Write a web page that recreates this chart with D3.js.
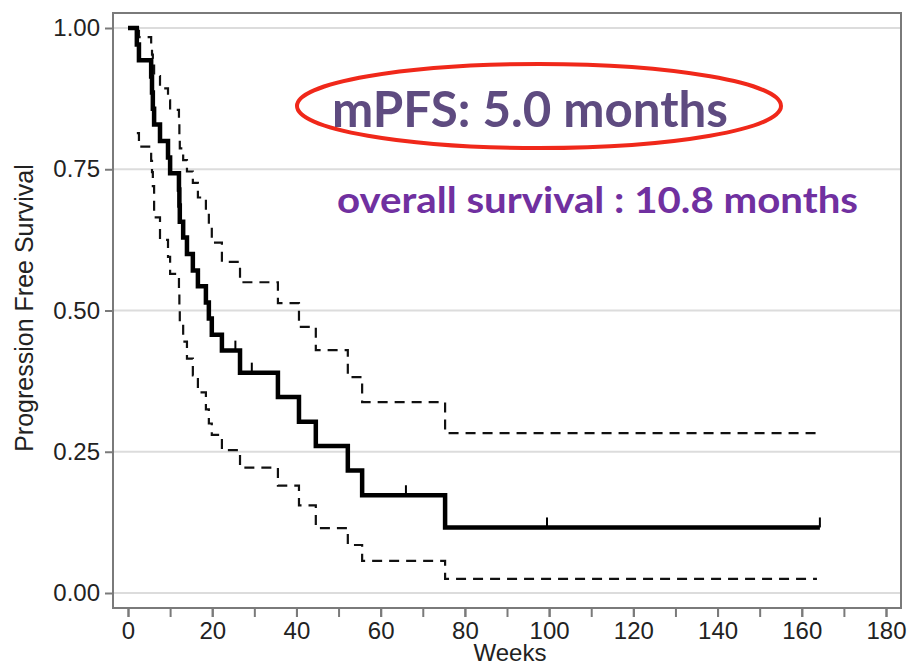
<!DOCTYPE html>
<html>
<head>
<meta charset="utf-8">
<script src="https://cdn.jsdelivr.net/npm/d3@7"></script>
<style>
  html, body { margin: 0; padding: 0; background: #fff; }
  svg { display: block; }
</style>
</head>
<body>
<svg id="chart" width="908" height="668"></svg>
<script>
// ---- data ----
const weeks = [0, 2.1, 2.6, 5.5, 5.7, 5.9, 6.2, 7.6, 9.5, 10.0, 12.1, 12.2, 12.3, 13.1, 14.0, 15.4, 16.6, 18.5, 19.2, 19.9, 22.3, 26.6, 35.6, 40.6, 44.6, 52.2, 55.6, 75.3];
const pfs = [1.0, 0.971, 0.943, 0.914, 0.886, 0.857, 0.829, 0.800, 0.771, 0.743, 0.714, 0.686, 0.657, 0.629, 0.600, 0.571, 0.543, 0.514, 0.486, 0.457, 0.429, 0.390, 0.347, 0.303, 0.260, 0.217, 0.173, 0.116];
const upperCI = [null, 0.995, 0.984, 0.968, 0.953, 0.937, 0.915, 0.893, 0.872, 0.855, 0.83, 0.81, 0.787, 0.766, 0.746, 0.726, 0.70, 0.675, 0.648, 0.62, 0.586, 0.550, 0.513, 0.471, 0.430, 0.382, 0.338, 0.283];
const lowerCI = [null, 0.814, 0.79, 0.765, 0.745, 0.72, 0.665, 0.625, 0.595, 0.565, 0.53, 0.50, 0.475, 0.445, 0.415, 0.385, 0.355, 0.325, 0.30, 0.28, 0.253, 0.222, 0.19, 0.155, 0.115, 0.085, 0.057, 0.025];
const censorWeeks = [25.5, 29.4, 66.0, 99.5, 164.3];
const lastWeek = 164.3;
const ciLastWeek = 163.6;
const xTicks = [0, 20, 40, 60, 80, 100, 120, 140, 160, 180];
const xMinorTicks = [0, 10, 20, 30, 40, 50, 60, 70, 80, 90, 100, 110, 120, 130, 140, 150, 160, 170, 180];
const yTicks = [0, 0.25, 0.5, 0.75, 1.0];
const xLabel = "Weeks";
const yLabel = "Progression Free Survival";
const note1 = "mPFS: 5.0 months";
const note2 = "overall survival : 10.8 months";

// ---- layout ----
const svg = d3.select("#chart");
const frame = { left: 113, right: 901, top: 13, bottom: 608 };
const x = d3.scaleLinear().domain([0, 180]).range([128, 886]);
const y = d3.scaleLinear().domain([0, 1]).range([593, 28]);
const axisFont = "Liberation Sans, Arial, sans-serif";

// gridlines
svg.append("g").selectAll("line").data(yTicks).join("line")
  .attr("x1", frame.left).attr("x2", frame.right)
  .attr("y1", d => y(d)).attr("y2", d => y(d))
  .attr("stroke", "#dcdcdc").attr("stroke-width", 2);

// frame
svg.append("rect")
  .attr("x", frame.left).attr("y", frame.top)
  .attr("width", frame.right - frame.left).attr("height", frame.bottom - frame.top)
  .attr("fill", "none").attr("stroke", "#7a7a7a").attr("stroke-width", 2);

// y axis
const yAxis = d3.axisLeft(y).tickValues(yTicks).tickFormat(d3.format(".2f")).tickSize(8).tickPadding(5);
const gy = svg.append("g").attr("transform", `translate(${frame.left},0)`).call(yAxis);
gy.select(".domain").remove();
gy.selectAll(".tick line").attr("stroke", "#7a7a7a").attr("stroke-width", 2);
gy.selectAll(".tick text").attr("font-family", axisFont)
  .attr("font-size", 24).attr("fill", "#222");

// x axis
const xAxisMinor = d3.axisBottom(x).tickValues(xMinorTicks).tickFormat("").tickSize(9);
const gxm = svg.append("g").attr("transform", `translate(0,${frame.bottom})`).call(xAxisMinor);
gxm.select(".domain").remove();
gxm.selectAll(".tick line").attr("stroke", "#7a7a7a").attr("stroke-width", 2);

const xAxis = d3.axisBottom(x).tickValues(xTicks).tickFormat(d3.format("d")).tickSize(9).tickPadding(5);
const gx = svg.append("g").attr("transform", `translate(0,${frame.bottom})`).call(xAxis);
gx.select(".domain").remove();
gx.selectAll(".tick line").attr("stroke", "#7a7a7a").attr("stroke-width", 2);
gx.selectAll(".tick text").attr("font-family", axisFont)
  .attr("font-size", 24).attr("fill", "#222");

// axis titles
svg.append("text").attr("x", 510).attr("y", 661).attr("text-anchor", "middle")
  .attr("font-family", axisFont).attr("font-size", 24).attr("fill", "#222")
  .text(xLabel);
svg.append("text").attr("transform", "translate(33,308) rotate(-90)").attr("text-anchor", "middle")
  .attr("font-family", axisFont).attr("font-size", 25).attr("fill", "#222")
  .text(yLabel);

// ---- curves ----
function series(vals, endWeek) {
  const pts = weeks.map((w, i) => ({ w, v: vals[i] }));
  pts.push({ w: endWeek, v: vals[vals.length - 1] });
  return pts;
}
const stepLine = d3.line()
  .defined(d => d.v !== null)
  .x(d => x(d.w)).y(d => y(d.v))
  .curve(d3.curveStepAfter);

svg.append("path").datum(series(upperCI, ciLastWeek)).attr("d", stepLine)
  .attr("fill", "none").attr("stroke", "#111").attr("stroke-width", 2.2).attr("stroke-dasharray", "10,7");
svg.append("path").datum(series(lowerCI, ciLastWeek)).attr("d", stepLine)
  .attr("fill", "none").attr("stroke", "#111").attr("stroke-width", 2.2).attr("stroke-dasharray", "10,7");
svg.append("path").datum(series(pfs, lastWeek)).attr("d", stepLine)
  .attr("fill", "none").attr("stroke", "#000").attr("stroke-width", 4.5).attr("stroke-linejoin", "miter");

// censor marks
function valueAt(w) {
  let v = pfs[0];
  for (let i = 0; i < weeks.length; i++) if (weeks[i] <= w) v = pfs[i];
  return v;
}
svg.append("g").selectAll("line").data(censorWeeks).join("line")
  .attr("x1", d => x(d)).attr("x2", d => x(d))
  .attr("y1", d => y(valueAt(d))).attr("y2", d => y(valueAt(d)) - 10)
  .attr("stroke", "#000").attr("stroke-width", 2);

// ---- annotations ----
svg.append("ellipse").attr("cx", 539).attr("cy", 106).attr("rx", 242).attr("ry", 42)
  .attr("fill", "none").attr("stroke", "#f0281a").attr("stroke-width", 4);
svg.append("text").attr("x", 332).attr("y", 127)
  .attr("font-family", "Lato, 'Open Sans', sans-serif").attr("font-weight", "bold").attr("font-size", 50)
  .attr("fill", "#5e4b80").attr("textLength", 396).attr("lengthAdjust", "spacingAndGlyphs")
  .text(note1);
svg.append("text").attr("x", 337).attr("y", 213)
  .attr("font-family", "Lato, 'Open Sans', sans-serif").attr("font-weight", "bold").attr("font-size", 37)
  .attr("fill", "#7030a0").attr("textLength", 521).attr("lengthAdjust", "spacingAndGlyphs")
  .text(note2);
</script>
</body>
</html>
